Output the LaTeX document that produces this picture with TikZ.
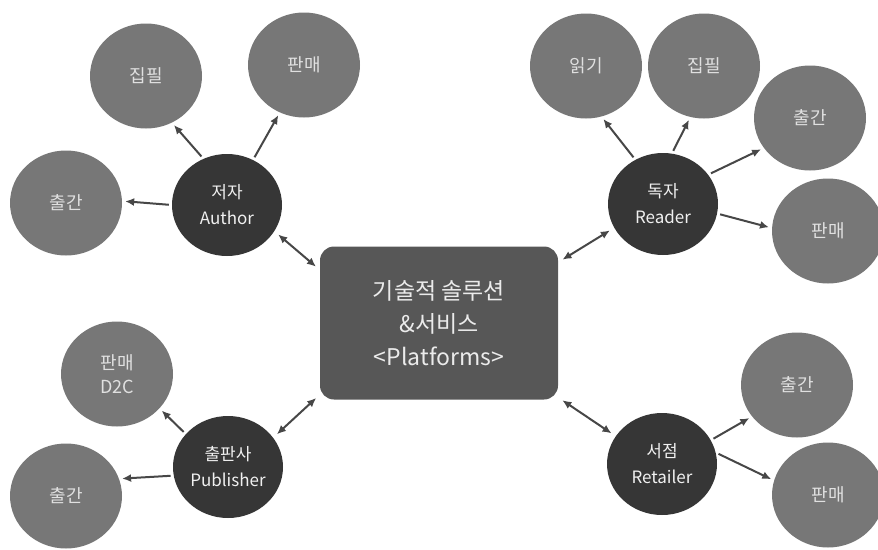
\documentclass[tikz,border=0pt]{standalone}
\usepackage{fontspec}
\setmainfont{Noto Sans CJK KR}
\usetikzlibrary{arrows.meta,shapes.geometric}
\definecolor{leafgray}{HTML}{777777}
\definecolor{rolegray}{HTML}{363636}
\definecolor{boxgray}{HTML}{575757}
\definecolor{arrowgray}{HTML}{474747}
\tikzset{leaf/.style = {shape=ellipse,fill=leafgray,text=white!88!black,minimum width=112pt,minimum height=105pt,inner sep=0pt,align=center,font=\fontsize{18}{24}\selectfont}}
\tikzset{role/.style = {shape=ellipse,fill=rolegray,text=white!94!black,minimum width=110pt,minimum height=102pt,inner sep=0pt,align=center,font=\fontsize{17}{26}\selectfont}}
\tikzset{platform/.style = {shape=rectangle,fill=boxgray,rounded corners=14pt,minimum width=238pt,minimum height=153pt,text=white!92!black,align=center,font=\fontsize{23}{33}\selectfont}}
\tikzset{edge/.style = {-{Latex[length=9pt,width=8pt]},line width=2pt,color=arrowgray,shorten >=3pt,shorten <=3pt}}
\tikzset{link/.style = {{Latex[length=9pt,width=8pt]}-{Latex[length=9pt,width=8pt]},line width=2pt,color=arrowgray,shorten >=5pt,shorten <=5pt}}

\begin{document}
\begin{tikzpicture}[x=1pt,y=-1pt]
          \clip (0,0) rectangle (878,549);
          \node[platform] (box) at (439,323) {기술적 솔루션\\\&서비스\\<Platforms>};

          % author
          \node[role] (author) at (227,205) {저자\\Author};
          \node[leaf] (aWrite) at (146,76) {집필};
          \node[leaf] (aSell) at (304,65) {판매};
          \node[leaf] (aPub) at (66,203) {출간};
          \path[edge] (author.180) edge (aPub.2);
          \path[edge] (author.117) edge (aWrite.-61);
          \path[edge] (author.60) edge (aSell.-117);
          \path[link] (author.-29) edge (box.156);

          % reader
          \node[role] (reader) at (663,204) {독자\\Reader};
          \node[leaf] (rRead) at (586,66) {읽기};
          \node[leaf] (rWrite) at (704,66) {집필};
          \node[leaf] (rPub) at (810,118) {출간};
          \node[leaf] (rSell) at (828,231) {판매};
          \path[edge] (reader.122) edge (rRead.-73);
          \path[edge] (reader.80) edge (rWrite.-105);
          \path[edge] (reader.33) edge (rPub.-147);
          \path[edge] (reader.-10) edge (rSell.177);
          \path[link] (reader.-154) edge (box.27);

          % publisher
          \node[role] (publisher) at (228,467) {출판사\\Publisher};
          \node[leaf] (pSell) at (117,374) {판매\\D2C};
          \node[leaf] (pPub) at (66,496) {출간};
          \path[edge] (publisher.142) edge (pSell.-39);
          \path[edge] (publisher.-171) edge (pPub.18);
          \path[link] (publisher.33) edge (box.211);

          % retailer
          \node[role] (retailer) at (662,464) {서점\\Retailer};
          \node[leaf] (tPub) at (797,385) {출간};
          \node[leaf] (tSell) at (828,495) {판매};
          \path[edge] (retailer.26) edge (tPub.215);
          \path[edge] (retailer.12) edge (tSell.165);
          \path[link] (retailer.149) edge (box.-32);
        \end{tikzpicture}
\end{document}
